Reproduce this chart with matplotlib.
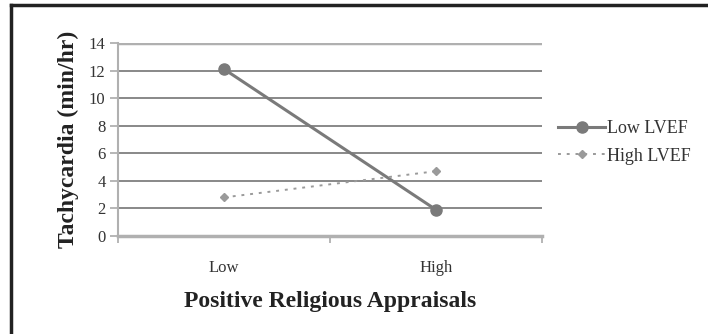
import numpy as np
import matplotlib.pyplot as plt
from matplotlib.lines import Line2D

plt.rcParams['font.family'] = ['Liberation Serif', 'DejaVu Serif']

# data
categories = ["Low", "High"]
low_lvef = [12.1, 1.9]
high_lvef = [2.8, 4.7]
yticks = [0, 2, 4, 6, 8, 10, 12, 14]

fig = plt.figure(figsize=(7.08, 3.34), dpi=100)
ax = fig.add_axes([0.1667, 0.2934, 0.599, 0.578])

x = np.arange(len(categories))
ax.plot(x, low_lvef, color='#7a7a7a', lw=2.2, marker='o', ms=8, label='Low LVEF')
ax.plot(x, high_lvef, color='#9a9a9a', lw=1.4, ls=(0, (1.5, 3)), marker='D', ms=4.5,
        label='High LVEF')

ax.set_xlim(-0.5, 1.5)
ax.set_ylim(0, 14)
ax.set_yticks(yticks)
ax.set_yticklabels([str(v) for v in yticks], color='#333333')
ax.set_xticks(x)
ax.set_xticklabels(categories, fontsize=12, color='#333333')
ax.set_xticks([-0.5, 0.5, 1.5], minor=True)
ax.tick_params(axis='x', which='major', length=0, pad=17)
ax.tick_params(axis='x', which='minor', length=5, color='#aaaaaa', width=1.2)
ax.tick_params(axis='y', length=6, color='#aaaaaa', width=1.2, labelsize=12, pad=3)
ax.grid(axis='y', color='#7f7f7f', lw=1.3)
ax.get_ygridlines()[-1].set_color('#b0b0b0')
ax.get_ygridlines()[-1].set_linewidth(2.5)
ax.set_axisbelow(True)
for s in ['top', 'right']:
    ax.spines[s].set_visible(False)
ax.spines['left'].set_color('#b0b0b0')
ax.spines['left'].set_linewidth(1.5)
ax.spines['bottom'].set_color('#b0b0b0')
ax.spines['bottom'].set_linewidth(2.5)

ax.set_ylabel('Tachycardia (min/hr)', fontsize=17, fontweight='bold', labelpad=7,
              color='#222222')
ax.set_xlabel('Positive Religious Appraisals', fontsize=17, fontweight='bold', labelpad=11,
              color='#222222')

leg = ax.legend(loc='center left', bbox_to_anchor=(1.0, 0.485), frameon=False,
                fontsize=13, handlelength=2.6, handletextpad=0.1, labelspacing=0.6)
for t in leg.get_texts():
    t.set_color('#333333')

# outer frame
fig.add_artist(Line2D([11 / 708, 11 / 708], [0, 1 - 5 / 334], transform=fig.transFigure,
                      color='#222222', lw=2.5))
fig.add_artist(Line2D([11 / 708, 1], [1 - 5 / 334, 1 - 5 / 334], transform=fig.transFigure,
                      color='#222222', lw=2.5))

fig.savefig('out.png', dpi=100)
